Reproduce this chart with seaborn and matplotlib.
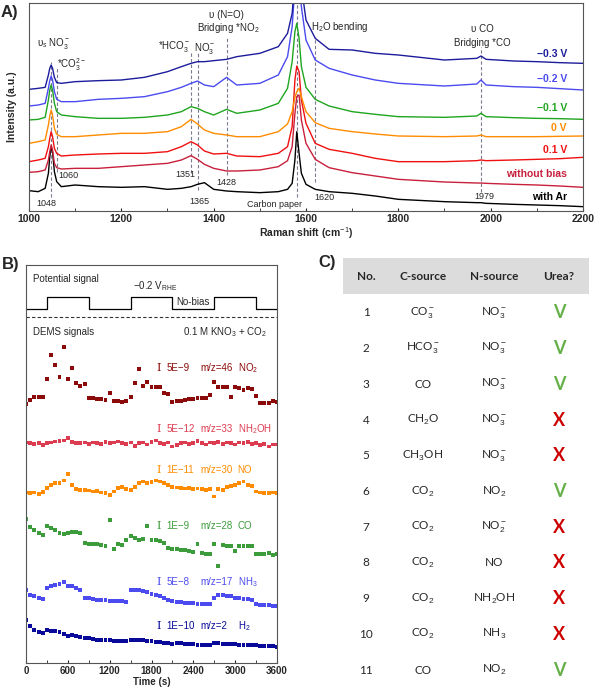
import matplotlib
matplotlib.use("Agg")
import numpy as np
import pandas as pd
import matplotlib.pyplot as plt
from matplotlib.patches import Rectangle
import seaborn as sns

# ---------------- data ----------------
# A) Raman spectra (offset intensities, a.u.)
raman_shift = [1000, 1020, 1035, 1042, 1045, 1048, 1051, 1055, 1060, 1070, 1100, 1150, 1200, 1250,
               1300, 1330, 1351, 1365, 1380, 1400, 1428, 1450, 1500, 1540, 1560, 1570, 1576, 1580,
               1585, 1590, 1600, 1620, 1650, 1700, 1750, 1800, 1900, 1970, 1979, 1990, 2050, 2100,
               2150, 2200]
int_m03 = [365, 368, 371, 408, 428, 438, 428, 401, 385, 383, 388, 391, 393, 401, 418, 433, 443, 448,
           448, 451, 455, 463, 473, 493, 533, 593, 693, 733, 713, 673, 573, 518, 485, 483, 473, 468,
           453, 458, 465, 455, 450, 448, 445, 443]
int_m02 = [315, 318, 323, 368, 391, 405, 393, 358, 335, 328, 328, 335, 338, 343, 358, 371, 383, 390,
           378, 373, 401, 378, 383, 408, 463, 553, 673, 713, 693, 613, 513, 453, 428, 408, 393, 383,
           375, 381, 393, 378, 373, 371, 367, 363]
int_m01 = [273, 275, 281, 333, 363, 378, 363, 323, 298, 288, 283, 278, 278, 281, 288, 298, 313, 308,
           298, 288, 305, 293, 303, 323, 368, 448, 538, 563, 518, 433, 371, 335, 315, 298, 290, 283,
           281, 285, 293, 283, 280, 278, 277, 275]
int_0 = [203, 208, 213, 258, 285, 303, 288, 248, 230, 223, 223, 228, 233, 233, 238, 253, 275, 261,
         243, 233, 228, 223, 223, 238, 261, 298, 341, 358, 368, 343, 298, 265, 248, 238, 231, 225,
         223, 225, 228, 223, 223, 223, 224, 225]
int_p01 = [148, 153, 158, 193, 218, 238, 223, 188, 173, 165, 168, 171, 173, 173, 178, 193, 208, 198,
           180, 171, 173, 165, 163, 173, 193, 253, 393, 435, 418, 333, 263, 203, 185, 173, 158, 148,
           148, 151, 153, 151, 153, 155, 157, 161]
int_nobias = [116, 118, 123, 153, 178, 198, 183, 143, 130, 126, 128, 128, 133, 138, 143, 153, 166, 155,
              140, 128, 120, 120, 123, 133, 151, 193, 293, 343, 348, 273, 203, 155, 130, 115, 105, 95,
              87, 84, 84, 83, 80, 78, 75, 71]
int_ar = [61, 58, 68, 113, 163, 193, 178, 118, 88, 73, 78, 73, 71, 73, 65, 68, 73, 80, 85, 65, 60, 58,
          55, 58, 65, 83, 153, 238, 173, 113, 80, 65, 58, 53, 45, 35, 28, 25, 25, 23, 20, 18, 16, 13]
spectra_names = ["\u22120.3 V", "\u22120.2 V", "\u22120.1 V", "0 V", "0.1 V", "without bias", "with Ar"]
spectra_colors = ["#1c1c9c", "#4b4bf0", "#1fa51f", "#ff8c00", "#f01010", "#c8203c", "#000000"]
peak_positions = [1048, 1060, 1351, 1365, 1428, 1580, 1620, 1979]

# B) DEMS signals (offset, a.u.)
time_s = list(range(0, 3601, 60))
sig_no2 = [778, 790, 798, 798, 798, 852, 925, 895, 858, 948, 852, 885, 840, 832, 837, 796, 796, 793,
           792, 790, 810, 788, 787, 785, 788, 800, 842, 882, 832, 843, 828, 830, 828, 812, 808, 785,
           787, 788, 790, 792, 793, 795, 795, 797, 805, 845, 828, 830, 828, 800, 828, 825, 820, 827,
           822, 802, 780, 780, 782, 788, 785]
sig_nh2oh = [662, 660, 658, 660, 655, 660, 662, 665, 666, 668, 676, 664, 660, 660, 662, 658, 662, 660,
             658, 664, 660, 662, 665, 660, 658, 662, 652, 660, 662, 656, 664, 668, 660, 658, 662, 650,
             655, 660, 662, 658, 660, 666, 660, 656, 662, 660, 664, 658, 662, 660, 656, 662, 660, 664,
             658, 660, 655, 658, 650, 656, 656]
sig_no = [512, 510, 512, 508, 514, 525, 535, 540, 540, 548, 568, 535, 522, 520, 520, 518, 515, 516,
          512, 510, 505, 515, 525, 528, 522, 520, 528, 540, 545, 540, 543, 548, 545, 540, 535, 528,
          527, 526, 524, 525, 522, 524, 522, 520, 522, 500, 522, 520, 528, 532, 535, 540, 545, 535,
          532, 515, 512, 510, 510, 512, 510]
sig_co = [432, 408, 398, 390, 384, 410, 405, 400, 390, 387, 390, 392, 392, 390, 360, 358, 358, 356,
          354, 352, 430, 342, 358, 355, 370, 382, 375, 370, 372, 412, 370, 368, 365, 360, 345, 343,
          342, 340, 338, 337, 334, 357, 330, 328, 328, 357, 290, 353, 350, 352, 335, 352, 351, 352,
          350, 328, 328, 328, 330, 325, 327]
sig_nh3 = [218, 205, 200, 195, 193, 225, 230, 235, 237, 243, 232, 230, 225, 220, 195, 195, 192, 190,
           190, 188, 187, 186, 185, 185, 184, 218, 220, 219, 215, 212, 208, 205, 200, 195, 190, 185,
           183, 182, 181, 180, 179, 178, 178, 177, 177, 195, 205, 205, 202, 200, 195, 194, 192, 192,
           190, 178, 175, 174, 173, 172, 172]
sig_h2 = [130, 110, 100, 93, 90, 98, 95, 95, 92, 88, 82, 85, 80, 78, 75, 75, 72, 70, 70, 68, 68, 67,
          65, 65, 65, 70, 70, 68, 68, 65, 65, 63, 63, 60, 60, 58, 60, 60, 58, 57, 57, 55, 55, 55, 55,
          60, 60, 58, 58, 57, 57, 55, 55, 55, 53, 53, 52, 52, 50, 50, 47]
dems_species = ["NO$_2$", "NH$_2$OH", "NO", "CO", "NH$_3$", "H$_2$"]
dems_mz = ["m/z=46", "m/z=33", "m/z=30", "m/z=28", "m/z=17", "m/z=2"]
dems_scale = ["5E\u22129", "5E\u221212", "1E\u221211", "1E\u22129", "5E\u22128", "1E\u221210"]
dems_colors = ["#8b0a0a", "#dc3c50", "#ff8c00", "#3c9c3c", "#4b4bf0", "#0a0a9a"]
switch_time = [0, 300, 900, 1500, 2100, 2700, 3300, 3600]
potential_level = [1062, 1100, 1062, 1100, 1062, 1100, 1062, 1062]

# C) control experiments
exp_no = [str(i) for i in range(1, 12)]
c_source = ["CO$_3^-$", "HCO$_3^-$", "CO", "CH$_2$O", "CH$_3$OH", "CO$_2$", "CO$_2$", "CO$_2$",
            "CO$_2$", "CO$_2$", "CO"]
n_source = ["NO$_3^-$", "NO$_3^-$", "NO$_3^-$", "NO$_3^-$", "NO$_3^-$", "NO$_2$", "NO$_2^-$", "NO",
            "NH$_2$OH", "NH$_3$", "NO$_2$"]
urea = ["V", "V", "V", "X", "X", "V", "X", "X", "X", "X", "V"]

# ---------------- style ----------------
sns.set_style("ticks")
plt.rcParams["font.family"] = ["Liberation Sans", "DejaVu Sans"]
plt.rcParams["mathtext.fontset"] = "custom"
plt.rcParams["mathtext.rm"] = "Liberation Sans"
plt.rcParams["mathtext.it"] = "Liberation Sans:italic"
plt.rcParams["mathtext.bf"] = "Liberation Sans:bold"
plt.rcParams["axes.edgecolor"] = "#555555"
plt.rcParams["axes.linewidth"] = 0.8

fig = plt.figure(figsize=(6, 6.89), dpi=100)

# ---------------- A) ----------------
axA = fig.add_axes([29 / 600, (689 - 211) / 689, 554 / 600, 208 / 689])
series = [int_m03, int_m02, int_m01, int_0, int_p01, int_nobias, int_ar]
df_raman = pd.concat([pd.DataFrame({"shift": raman_shift, "intensity": s, "spectrum": n})
                      for s, n in zip(series, spectra_names)])
sns.lineplot(data=df_raman, x="shift", y="intensity", hue="spectrum", hue_order=spectra_names[::-1],
             palette=dict(zip(spectra_names, spectra_colors)), estimator=None, sort=False,
             legend=False, linewidth=1.0, ax=axA)

dash_span = [(43, 448), (118, 433), (113, 473), (63, 473), (108, 518), (43, 640), (88, 523), (58, 493)]
for p, (lo, hi) in zip(peak_positions, dash_span):
    axA.plot([p, p], [lo, hi], color="#7a7a90", lw=0.8, ls=(0, (3, 2)), zorder=0)

axA.set_xlim(1000, 2200)
axA.set_ylim(0, 624)
axA.set_yticks([])
axA.set_xticks(range(1000, 2201, 200))
axA.set_xticks(range(1100, 2200, 200), minor=True)
axA.tick_params(axis="x", which="both", direction="in", length=2.5, labelsize=7.5, pad=2)
for lab in axA.get_xticklabels():
    lab.set_fontweight("bold")
axA.set_xlabel("Raman shift (cm$^{-1}$)", fontsize=7.5, fontweight="bold", labelpad=1)
axA.set_ylabel("Intensity (a.u.)", fontsize=7.5, fontweight="bold")
axA.yaxis.set_label_coords(-0.022, 0.5)

fsA = 7
axA.text(1054, 503, "\u03c5$_s$ NO$_3^-$", fontsize=fsA, ha="center", va="center")
axA.text(1092, 438, "*CO$_3^{2-}$", fontsize=fsA, ha="center", va="center")
axA.text(1314, 493, "*HCO$_3^-$", fontsize=fsA, ha="center", va="center")
axA.text(1381, 488, "NO$_3^-$", fontsize=fsA, ha="center", va="center")
axA.text(1428, 588, "\u03c5 (N=O)", fontsize=fsA, ha="center", va="center")
axA.text(1432, 548, "Bridging *NO$_2$", fontsize=fsA, ha="center", va="center")
axA.text(1674, 551, "H$_2$O bending", fontsize=fsA, ha="center", va="center")
axA.text(1982, 545, "\u03c5 CO", fontsize=fsA, ha="center", va="center")
axA.text(1982, 505, "Bridging *CO", fontsize=fsA, ha="center", va="center")
for x, y, s in [(1038, 23, "1048"), (1085, 108, "1060"), (1338, 111, "1351"), (1368, 28, "1365"),
                (1427, 85, "1428"), (1531, 21, "Carbon paper"), (1639, 41, "1620"), (1986, 45, "1979")]:
    axA.text(x, y, s, fontsize=6.5, ha="center", va="center")
for name, col, y in zip(spectra_names, spectra_colors, [471, 396, 308, 248, 183, 111, 41]):
    axA.text(2165, y, name, fontsize=7.5, fontweight="bold", color=col, ha="right", va="center")

# ---------------- B) ----------------
axB = fig.add_axes([26 / 600, (689 - 663) / 689, 251 / 600, 398 / 689])
dems = [sig_no2, sig_nh2oh, sig_no, sig_co, sig_nh3, sig_h2]
df_dems = pd.concat([pd.DataFrame({"time": time_s, "signal": s, "species": n})
                     for s, n in zip(dems, dems_mz)])
sns.scatterplot(data=df_dems, x="time", y="signal", hue="species",
                palette=dict(zip(dems_mz, dems_colors)), marker="s", s=8, linewidth=0,
                legend=False, ax=axB)
sns.lineplot(x=switch_time, y=potential_level, color="black", lw=0.9, drawstyle="steps-post",
             estimator=None, sort=False, ax=axB)
axB.axhline(1040, color="#333333", lw=0.8, ls=(0, (3, 2)))

axB.set_xlim(0, 3600)
axB.set_ylim(0, 1195)
axB.set_yticks([])
axB.set_xticks(range(0, 3601, 600))
axB.set_xticks(range(300, 3600, 600), minor=True)
axB.tick_params(axis="x", which="both", direction="in", length=2.5, labelsize=7, pad=2)
for lab in axB.get_xticklabels():
    lab.set_fontweight("bold")
axB.set_xlabel("Time (s)", fontsize=7, fontweight="bold", labelpad=1)
axB.set_ylabel("")

fsB = 7
axB.text(105, 1153, "Potential signal", fontsize=fsB, va="center")
axB.text(1541, 1132, "\u22120.2 V$_\\mathrm{RHE}$", fontsize=fsB, va="center")
axB.text(2154, 1085, "No-bias", fontsize=fsB, va="center")
axB.text(105, 995, "DEMS signals", fontsize=fsB, va="center")
axB.text(3456, 995, "0.1 M KNO$_3$ + CO$_2$", fontsize=fsB, va="center", ha="right")
for sc, mz, sp, col, y in zip(dems_scale, dems_mz, dems_species, dems_colors,
                              [885, 702, 578, 410, 243, 110]):
    axB.text(1905, y, "I", fontsize=8, family="DejaVu Serif", color=col, ha="center", va="center")
    axB.text(2010, y, sc, fontsize=fsB, color=col, va="center")
    axB.text(2499, y, mz, fontsize=fsB, color=col, va="center")
    axB.text(3035, y, sp, fontsize=fsB, color=col, va="center")

# ---------------- C) ----------------
axC = fig.add_axes([300 / 600, 0, 300 / 600, (689 - 250) / 689])
axC.set_xlim(300, 600)
axC.set_ylim(689, 250)
axC.axis("off")
axC.add_patch(Rectangle((343, 258), 246, 36, facecolor="#dcdcdc", edgecolor="none"))
col_x = [366, 423, 494, 559]
for x, h in zip(col_x, ["No.", "C-source", "N-source", "Urea?"]):
    axC.text(x, 277, h, fontsize=8.5, fontweight="bold", family=["Lato", "DejaVu Sans"],
             ha="center", va="center")
for i in range(len(exp_no)):
    y = 313 + i * 35.7
    axC.text(col_x[0], y, exp_no[i], fontsize=8.5, family=["Lato", "DejaVu Sans"], ha="center", va="center")
    axC.text(col_x[1], y, c_source[i], fontsize=8.5, family=["Lato", "DejaVu Sans"], ha="center", va="center")
    axC.text(col_x[2], y, n_source[i], fontsize=8.5, family=["Lato", "DejaVu Sans"], ha="center", va="center")
    axC.text(col_x[3], y, urea[i], fontsize=13, fontweight="bold", family=["Lato", "DejaVu Sans"],
             color="#66b04a" if urea[i] == "V" else "#cc0000", ha="center", va="center")

fig.text(1 / 600, 1 - 12 / 689, "A)", fontsize=12, fontweight="bold", va="center")
fig.text(2 / 600, 1 - 265 / 689, "B)", fontsize=12, fontweight="bold", va="center")
fig.text(318 / 600, 1 - 263 / 689, "C)", fontsize=12, fontweight="bold", va="center")

fig.savefig("out.png", dpi=100)
